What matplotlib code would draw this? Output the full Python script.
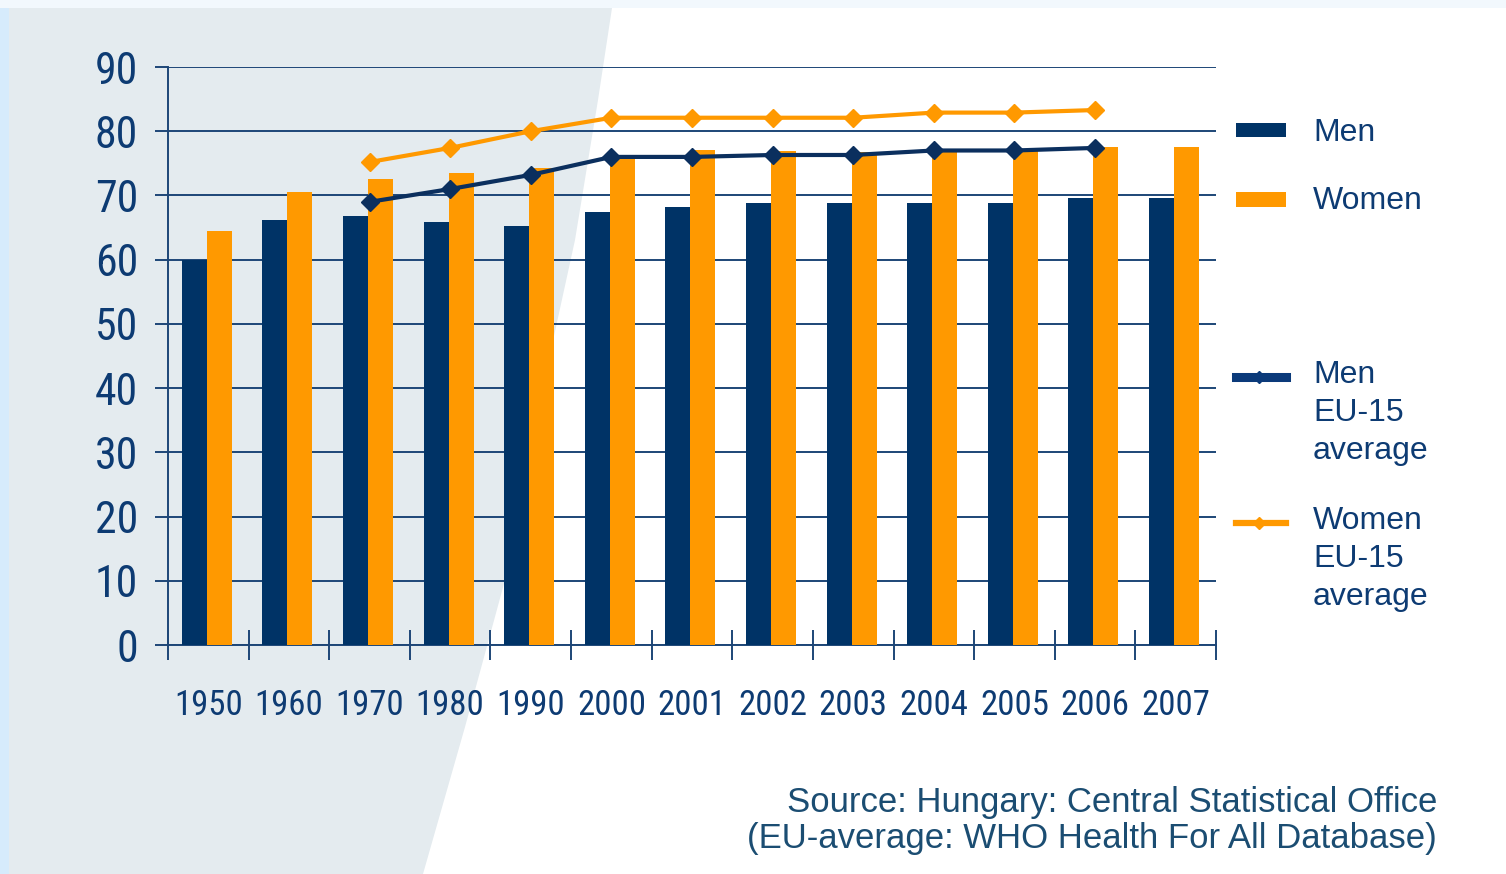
import numpy as np
import matplotlib
matplotlib.use('Agg')
import matplotlib.pyplot as plt
from matplotlib import font_manager
from matplotlib.textpath import TextPath
from matplotlib.patches import Polygon, Rectangle
from matplotlib.lines import Line2D

# data
years = ['1950', '1960', '1970', '1980', '1990', '2000', '2001',
         '2002', '2003', '2004', '2005', '2006', '2007']
men = [60.0, 66.2, 66.8, 65.9, 65.3, 67.4, 68.2, 68.8, 68.8, 68.8, 68.8, 69.6, 69.6]
women = [64.5, 70.6, 72.6, 73.5, 74.2, 76.0, 77.0, 76.9, 76.8, 77.1, 77.1, 77.6, 77.6]
eu_men = [np.nan, np.nan, 69.0, 71.0, 73.2, 76.0, 76.0, 76.3, 76.3, 77.0, 77.0, 77.4, np.nan]
eu_women = [np.nan, np.nan, 75.2, 77.4, 80.0, 82.1, 82.1, 82.1, 82.1, 82.9, 82.9, 83.3, np.nan]
yticks = [0, 10, 20, 30, 40, 50, 60, 70, 80, 90]

NAVY = '#003366'
ORANGE = '#ff9900'
GRID = '#1d4677'
TXT = '#0d3b73'

W, H = 1506, 874

def px(x, y):
    # pixel position -> figure fraction
    return x / W, 1 - y / H

def digit_box(fp, s='1950'):
    # width, height of s at size 100
    e = TextPath((0, 0), s, size=100, prop=fp).get_extents()
    return e.width, e.height

# plain sans faces only (incl. their narrow / condensed cuts)
families = ['Liberation Sans', 'DejaVu Sans', 'Roboto', 'Open Sans', 'Noto Sans', 'Lato', 'Inter']
fonts = []
for f in font_manager.fontManager.ttflist:
    base = [fam for fam in families if f.name.startswith(fam)]
    if not base or 'Mono' in f.name or 'CJK' in f.name:
        continue
    rest = f.name[len(base[0]):].strip()
    if rest not in ('', 'Narrow', 'Condensed', 'SemiCondensed', 'ExtraCondensed'):
        continue
    if f.style != 'normal' or f.weight not in (400, 'normal', 'regular'):
        continue
    try:
        fp = font_manager.FontProperties(fname=f.fname)
        bw, bh = digit_box(fp)
    except Exception:
        continue
    if bh > 0:
        fonts.append((bw / bh, fp))

def closest(target):
    # font whose "1950" width/height is nearest the picture's
    if not fonts:
        return font_manager.FontProperties(family='Liberation Sans')
    return min(fonts, key=lambda t: abs(t[0] - target))[1]

to_pt = 72 / 100
# x labels: "1950" about 62 px wide and 35 px tall
xfp = closest(62 / 35)
bw, bh = digit_box(xfp)
xfs = min(64 * to_pt / bw * 100, 35 * to_pt / bh * 100)
# y labels: "90" about 39 px wide and 32 px tall
yfp = closest(2 * 39 / 32)
bw, bh = digit_box(yfp, '90')
yfs = min(40 * to_pt / bw * 100, 32 * to_pt / bh * 100)

plt.rcParams['font.family'] = ['Liberation Sans', 'DejaVu Sans']

fig = plt.figure(figsize=(W / 100, H / 100), dpi=100)
fig.patch.set_facecolor('white')

# background: light blue strips + slanted grey panel
fig.patches.append(Rectangle(px(0, H), 9 / W, 1, transform=fig.transFigure,
                             facecolor='#d6ebfc', edgecolor='none', zorder=-3))
fig.patches.append(Rectangle(px(0, 8), 1, 8 / H, transform=fig.transFigure,
                             facecolor='#f2f8fd', edgecolor='none', zorder=-3))
edge = [(9, 8), (612, 8), (598, 100), (575, 240), (540, 400), (505, 580),
        (465, 727), (423, 874), (9, 874)]
fig.patches.append(Polygon([px(x, y) for x, y in edge], closed=True,
                           transform=fig.transFigure, facecolor='#e4ebef',
                           edgecolor='none', zorder=-2))

l, b = px(168, 645)
r, t = px(1216, 67)
ax = fig.add_axes([l, b, r - l, t - b])
ax.set_facecolor('none')

x = np.arange(len(years))
w = 0.31
ax.bar(x - w / 2 - 0.02, men, w, color=NAVY, zorder=3)
ax.bar(x + w / 2 - 0.02, women, w, color=ORANGE, zorder=3)
ax.plot(x, eu_women, color=ORANGE, lw=3, marker='D', ms=9, zorder=4)
ax.plot(x, eu_men, color='#0b2f5e', lw=3, marker='D', ms=9, zorder=4)

ax.set_xlim(-0.5, len(years) - 0.5)
ax.set_ylim(0, 90)
ax.set_yticks(yticks)
ax.yaxis.grid(True, color=GRID, lw=1.4, zorder=1)
ax.set_axisbelow(True)
for s in ['top', 'right']:
    ax.spines[s].set_visible(False)
for s in ['left', 'bottom']:
    ax.spines[s].set_color(GRID)
    ax.spines[s].set_linewidth(1.4)

ax.set_xticks(np.arange(len(years) + 1) - 0.5)
ax.set_xticklabels([])
ax.set_xticks(x, minor=True)
ax.set_xticklabels(years, minor=True)
ax.tick_params(axis='x', which='major', direction='inout', length=21,
               width=1.4, color=GRID)
ax.tick_params(axis='x', which='minor', length=0, pad=32, labelcolor=TXT)
ax.tick_params(axis='y', direction='out', length=9.5, width=1.4, color=GRID,
               pad=12, labelcolor=TXT)
for lab in ax.get_xticklabels(minor=True):
    lab.set_fontproperties(xfp)
    lab.set_fontsize(xfs)
for lab in ax.get_yticklabels():
    lab.set_fontproperties(yfp)
    lab.set_fontsize(yfs)

# legend drawn by hand to keep the uneven spacing
fig.patches.append(Rectangle(px(1236, 137), 50 / W, 14 / H, transform=fig.transFigure,
                             facecolor=NAVY, edgecolor='none'))
fig.patches.append(Rectangle(px(1236, 207), 50 / W, 15 / H, transform=fig.transFigure,
                             facecolor=ORANGE, edgecolor='none'))
for yy, c, lw in [(377, '#0b3a7a', 6.5), (523, ORANGE, 4.5)]:
    xs, ys = zip(px(1236, yy), px(1286, yy))
    fig.lines.append(Line2D(xs, ys, color=c, lw=lw, transform=fig.transFigure))
    mx, my = px(1259, yy)
    fig.lines.append(Line2D([mx], [my], color=c, marker='D', ms=6, lw=0,
                            transform=fig.transFigure))

# y is the baseline of the last line of each label
leg = [('Men', 141), ('Women', 209), ('Men\nEU-15\naverage', 459),
       ('Women\nEU-15\naverage', 605)]
for s, yy in leg:
    fig.text(*px(1313, yy), s, fontsize=23, color=TXT, va='baseline',
             ha='left', linespacing=1.35)

fig.text(*px(1437, 848), 'Source: Hungary: Central Statistical Office\n'
         '(EU-average: WHO Health For All Database)', fontsize=25,
         color='#1b4d72', ha='right', va='baseline', multialignment='right',
         linespacing=1.1)

fig.savefig('out.png', dpi=100)
